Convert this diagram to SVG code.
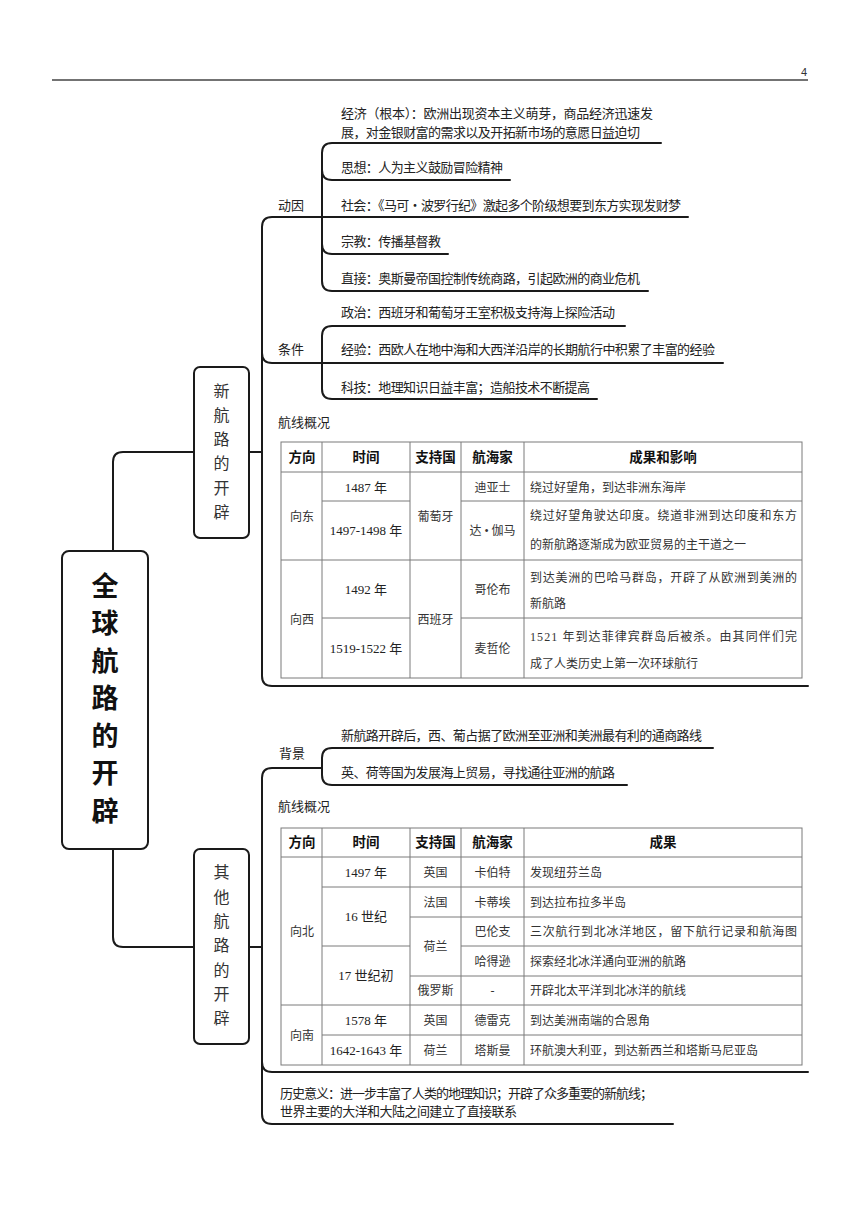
<svg xmlns="http://www.w3.org/2000/svg" width="860" height="1216" viewBox="0 0 860 1216">
<style>
.ln{fill:none;stroke:#1a1a1a;stroke-width:2;stroke-linecap:round}
.box{fill:#fff;stroke:#1a1a1a;stroke-width:2}
.t{font-family:"Noto Sans CJK SC","Liberation Sans",sans-serif;font-size:13px;fill:#222}
.v{font-family:"Noto Sans CJK SC",sans-serif;font-size:16px;fill:#333;text-anchor:middle}
.rt{font-family:"Noto Sans CJK SC",sans-serif;font-size:27px;font-weight:bold;fill:#111;text-anchor:middle}
.g{fill:none;stroke:#7a7a7a;stroke-width:1}
.th{font-family:"Noto Sans CJK SC",sans-serif;font-size:13.5px;font-weight:bold;fill:#111;text-anchor:middle}
.td{font-family:"Liberation Serif","Noto Sans CJK SC",serif;font-size:12px;fill:#333}
.n{font-family:"Liberation Serif","Noto Sans CJK SC",serif;font-size:13px;fill:#222;text-anchor:middle}
.c{text-anchor:middle}
</style>

<g id="page-header">
<line x1="52" y1="80" x2="808" y2="80" stroke="#444" stroke-width="1.5"/>
<text x="807" y="76" font-family="Liberation Sans,sans-serif" font-size="11" fill="#333" text-anchor="end">4</text>
</g>

<g id="connectors">
<path class="ln" d="M194,452 L123,452 Q113,452 113,462 L113,551"/>
<path class="ln" d="M113,849 L113,937 Q113,947 123,947 L194,947"/>
<path class="ln" d="M249,452 L262,452"/>
<path class="ln" d="M249,947 L262,947"/>
<path class="ln" d="M688,217 L272,217 Q262,217 262,227 L262,676 Q262,686 272,686 L808,686"/>
<path class="ln" d="M661,143 L332,143 Q322,143 322,153 L322,281 Q322,291 332,291 L648,291"/>
<path class="ln" d="M322,170 Q322,180 332,180 L510,180"/>
<path class="ln" d="M322,244 Q322,254 332,254 L448,254"/>
<path class="ln" d="M625,326 L332,326 Q322,326 322,336 L322,389 Q322,399 332,399 L597,399"/>
<path class="ln" d="M262,353 Q262,363 272,363 L723,363"/>
<path class="ln" d="M322,768 L272,768 Q262,768 262,778 L262,1114 Q262,1124 272,1124 L673,1124"/>
<path class="ln" d="M713,748 L332,748 Q322,748 322,758 L322,775 Q322,785 332,785 L627,785"/>
<path class="ln" d="M262,1062 Q262,1072 272,1072 L808,1072"/>
</g>

<g id="root">
<rect class="box" x="62" y="551" width="86" height="298" rx="7"/>
<text class="rt" x="105" y="596">全</text>
<text class="rt" x="105" y="633">球</text>
<text class="rt" x="105" y="671">航</text>
<text class="rt" x="105" y="708">路</text>
<text class="rt" x="105" y="746">的</text>
<text class="rt" x="105" y="783">开</text>
<text class="rt" x="105" y="821">辟</text>
</g>

<g id="new-routes">
<rect class="box" x="194" y="367" width="55" height="171" rx="6"/>
<text class="v" x="221.5" y="397">新</text>
<text class="v" x="221.5" y="421">航</text>
<text class="v" x="221.5" y="445">路</text>
<text class="v" x="221.5" y="469">的</text>
<text class="v" x="221.5" y="494">开</text>
<text class="v" x="221.5" y="518">辟</text>
</g>

<g id="other-routes">
<rect class="box" x="194" y="849" width="55" height="195" rx="6"/>
<text class="v" x="221.5" y="878">其</text>
<text class="v" x="221.5" y="903">他</text>
<text class="v" x="221.5" y="927">航</text>
<text class="v" x="221.5" y="951">路</text>
<text class="v" x="221.5" y="976">的</text>
<text class="v" x="221.5" y="1000">开</text>
<text class="v" x="221.5" y="1024">辟</text>
</g>

<g id="motive">
<text class="t" x="278" y="210">动因</text>
<text class="t" x="341" y="118" textLength="312">经济（根本）：欧洲出现资本主义萌芽，商品经济迅速发</text>
<text class="t" x="341" y="137" textLength="299">展，对金银财富的需求以及开拓新市场的意愿日益迫切</text>
<text class="t" x="341" y="172" textLength="162">思想：人为主义鼓励冒险精神</text>
<text class="t" x="341" y="210" textLength="340">社会：《马可·波罗行纪》激起多个阶级想要到东方实现发财梦</text>
<text class="t" x="341" y="246" textLength="100">宗教：传播基督教</text>
<text class="t" x="341" y="283" textLength="299">直接：奥斯曼帝国控制传统商路，引起欧洲的商业危机</text>
</g>

<g id="condition">
<text class="t" x="278" y="354">条件</text>
<text class="t" x="341" y="317" textLength="274">政治：西班牙和葡萄牙王室积极支持海上探险活动</text>
<text class="t" x="341" y="354" textLength="374">经验：西欧人在地中海和大西洋沿岸的长期航行中积累了丰富的经验</text>
<text class="t" x="341" y="392" textLength="249">科技：地理知识日益丰富；造船技术不断提高</text>
</g>

<g id="routes-east-west">
<text class="t" x="278" y="427">航线概况</text>
<rect class="g" x="281" y="442" width="521" height="236"/>
<path class="g" d="M281,472 H802 M322,501 H410 M461,501 H802 M281,560 H802 M322,618 H410 M461,618 H802 M322,442 V678 M410,442 V678 M461,442 V678 M524,442 V678"/>
<text class="th" x="302" y="462">方向</text>
<text class="th" x="366" y="462">时间</text>
<text class="th" x="435.5" y="462">支持国</text>
<text class="th" x="492.5" y="462">航海家</text>
<text class="th" x="663" y="462">成果和影响</text>
<text class="td c" x="302" y="521">向东</text>
<text class="n" x="366" y="492">1487 年</text>
<text class="n" x="366" y="535">1497-1498 年</text>
<text class="td c" x="435.5" y="521">葡萄牙</text>
<text class="td c" x="492.5" y="492">迪亚士</text>
<text class="td c" x="492.5" y="535">达 • 伽马</text>
<text class="td" x="530" y="492">绕过好望角，到达非洲东海岸</text>
<text class="td" x="530" y="520" textLength="267">绕过好望角驶达印度。绕道非洲到达印度和东方</text>
<text class="td" x="530" y="549">的新航路逐渐成为欧亚贸易的主干道之一</text>
<text class="td c" x="302" y="624">向西</text>
<text class="n" x="366" y="594">1492 年</text>
<text class="n" x="366" y="653">1519-1522 年</text>
<text class="td c" x="435.5" y="624">西班牙</text>
<text class="td c" x="492.5" y="594">哥伦布</text>
<text class="td c" x="492.5" y="653">麦哲伦</text>
<text class="td" x="530" y="582" textLength="267">到达美洲的巴哈马群岛，开辟了从欧洲到美洲的</text>
<text class="td" x="530" y="608">新航路</text>
<text class="td" x="530" y="641" textLength="267">1521 年到达菲律宾群岛后被杀。由其同伴们完</text>
<text class="td" x="530" y="668">成了人类历史上第一次环球航行</text>
</g>

<g id="background">
<text class="t" x="279" y="758">背景</text>
<text class="t" x="341" y="740" textLength="361">新航路开辟后，西、葡占据了欧洲至亚洲和美洲最有利的通商路线</text>
<text class="t" x="341" y="777" textLength="274">英、荷等国为发展海上贸易，寻找通往亚洲的航路</text>
</g>

<g id="routes-north-south">
<text class="t" x="278" y="811">航线概况</text>
<rect class="g" x="281" y="828" width="521" height="237"/>
<path class="g" d="M281,857 H802 M322,887 H802 M410,917 H802 M322,946 H410 M461,946 H802 M410,976 H802 M281,1005 H802 M322,1035 H802 M322,828 V1065 M410,828 V1065 M461,828 V1065 M524,828 V1065"/>
<text class="th" x="302" y="847">方向</text>
<text class="th" x="366" y="847">时间</text>
<text class="th" x="435.5" y="847">支持国</text>
<text class="th" x="492.5" y="847">航海家</text>
<text class="th" x="663" y="847">成果</text>
<text class="td c" x="302" y="936">向北</text>
<text class="n" x="366" y="877">1497 年</text>
<text class="n" x="366" y="921">16 世纪</text>
<text class="n" x="366" y="980">17 世纪初</text>
<text class="td c" x="435.5" y="877">英国</text>
<text class="td c" x="435.5" y="907">法国</text>
<text class="td c" x="435.5" y="951">荷兰</text>
<text class="td c" x="435.5" y="995">俄罗斯</text>
<text class="td c" x="492.5" y="877">卡伯特</text>
<text class="td c" x="492.5" y="907">卡蒂埃</text>
<text class="td c" x="492.5" y="936">巴伦支</text>
<text class="td c" x="492.5" y="966">哈得逊</text>
<text class="td c" x="492.5" y="995">-</text>
<text class="td" x="530" y="877">发现纽芬兰岛</text>
<text class="td" x="530" y="907">到达拉布拉多半岛</text>
<text class="td" x="530" y="936" textLength="267">三次航行到北冰洋地区，留下航行记录和航海图</text>
<text class="td" x="530" y="966">探索经北冰洋通向亚洲的航路</text>
<text class="td" x="530" y="995">开辟北太平洋到北冰洋的航线</text>
<text class="td c" x="302" y="1040">向南</text>
<text class="n" x="366" y="1025">1578 年</text>
<text class="n" x="366" y="1055">1642-1643 年</text>
<text class="td c" x="435.5" y="1025">英国</text>
<text class="td c" x="435.5" y="1055">荷兰</text>
<text class="td c" x="492.5" y="1025">德雷克</text>
<text class="td c" x="492.5" y="1055">塔斯曼</text>
<text class="td" x="530" y="1025">到达美洲南端的合恩角</text>
<text class="td" x="530" y="1055">环航澳大利亚，到达新西兰和塔斯马尼亚岛</text>
</g>

<g id="significance">
<text class="t" x="280" y="1098" textLength="373">历史意义：进一步丰富了人类的地理知识；开辟了众多重要的新航线；</text>
<text class="t" x="280" y="1116" textLength="237">世界主要的大洋和大陆之间建立了直接联系</text>
</g>
</svg>
